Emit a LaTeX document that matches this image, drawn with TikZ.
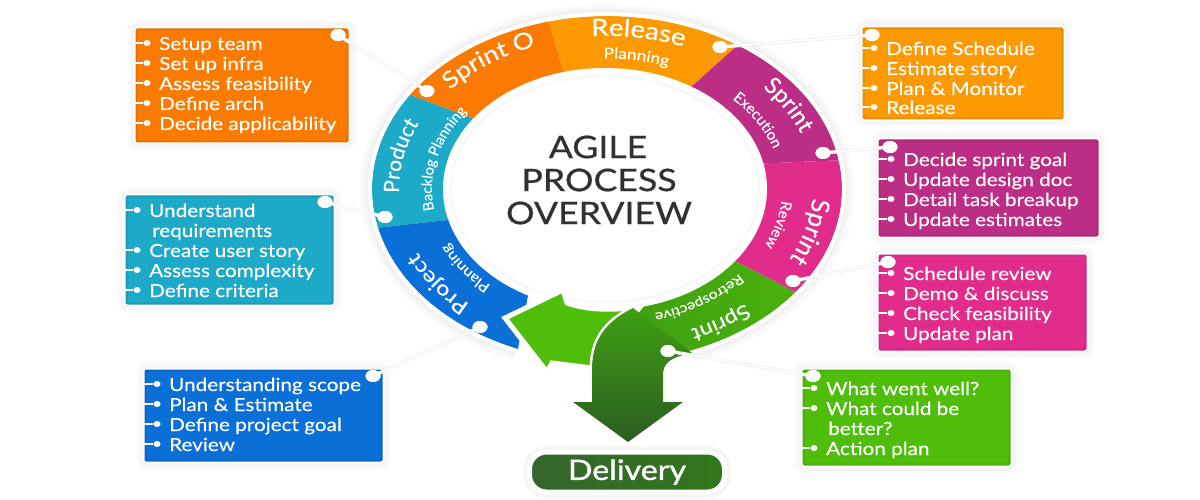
\documentclass[tikz,border=0pt]{standalone}
\usepackage{fontspec}
\setmainfont[FakeStretch=1.15,FakeBold=0.25]{Lato}
\newfontfamily\sidefont[FakeBold=0.25]{Lato}
\newfontfamily\titlefont[FakeStretch=1.15,FakeBold=0.7]{Lato}
\newfontfamily\delfont[FakeStretch=1.15,FakeBold=1.2]{Lato}
\usetikzlibrary{decorations.text,shapes.geometric}
\definecolor{cOrange}{HTML}{FB7A02}
\definecolor{cAmber}{HTML}{FD9A02}
\definecolor{cPurple}{HTML}{BC2E85}
\definecolor{cPink}{HTML}{E22C8C}
\definecolor{cGreen}{HTML}{4FBE0B}
\definecolor{cBlue}{HTML}{0A6FD7}
\definecolor{cTeal}{HTML}{1CAAC8}
\definecolor{cDark}{HTML}{2F3233}
\definecolor{cGD}{HTML}{2A5C22}
\definecolor{cGM}{HTML}{3FA012}
\tikzset{
  x=1pt,y=-1pt,
  panelbox/.style={rectangle,rounded corners=3pt,inner sep=0pt,draw=white,line width=5pt,
    preaction={draw=black!2,line width=17pt},
    preaction={draw=black!4,line width=11pt}},
  itemtext/.style={text=white,inner sep=0pt,font=\fontsize{18}{20}\selectfont},
  bulletdot/.style={ellipse,fill=white,inner sep=0pt,minimum width=7pt,minimum height=6pt},
  ringdot/.style={ellipse,fill=white,inner sep=0pt,minimum width=15pt,minimum height=12pt},
  tick/.style={draw=white,line width=1.4pt},
  leader/.style={draw=white,line width=1.6pt,preaction={draw=black!6,line width=3.5pt}},
  titletext/.style={text=cDark,inner sep=0pt,font=\titlefont\fontsize{31}{36}\selectfont},
}
\newcommand\panel[6]{%
  \pgfmathsetmacro\pw{#4-#2}\pgfmathsetmacro\ph{#5-#3}%
  \node[panelbox,fill=#6!82!black,minimum width=\pw pt,minimum height=\ph pt] (#1) at ({(#2+#4)/2},{(#3+#5)/2}) {};
  \fill[#6!92!black,rounded corners=2pt] ([shift={(2,-2)}]#1.south west) rectangle ([shift={(-2,2)}]#1.north east);
  \fill[#6,rounded corners=2pt] ([shift={(4,-4)}]#1.south west) rectangle ([shift={(-4,4)}]#1.north east);
}
\newcommand\entry[5]{%
  \node[itemtext,anchor=base west] (#1) at (#3,#4+7) {#5};
  \node[bulletdot] (#1b) at (#3-12,#4) {};
  \draw[tick] (#1b) -- (#2.west |- #1b);
}
\newcommand\ringtext[6][\rmfamily]{% font; k, centre angle, half span, size, text
  \path[decorate,decoration={text along path,text color=white,text align=center,
     text={|#1\fontsize{#5}{#5}\selectfont|#6}}]
    ({607+#2*235*cos(#3+#4)},{189-#2*173*sin(#3+#4)})
    arc[start angle={#3+#4},end angle={#3-#4},x radius={#2*235pt},y radius={#2*173pt}];
}
\begin{document}
\begin{tikzpicture}
\useasboundingbox (0,0) rectangle (1200,500);
\fill[white] (0,0) rectangle (1200,500);
% soft halo round the ring
\foreach \w/\c in {20/2,13/4,8/6}{
  \draw[black!\c,line width=\w pt] ({607+237*cos(247.5)},{189-175*sin(247.5)})
    arc[start angle=247.5,end angle=-69,x radius=237pt,y radius=175pt];
}
\begin{scope}
\clip (607,189) ellipse [x radius=235pt,y radius=173pt];
\fill[cTeal] (490,125) -- (380,83) -- (340,232) -- (465,218) -- cycle;
\fill[cOrange] (567,83) -- (545,8) -- (545,0) -- (380,0) -- (380,83) -- (490,125) -- cycle;
\fill[cAmber] (567,83) -- (545,8) -- (545,0) -- (800,0) -- (760,25) -- (680,97) -- cycle;
\fill[cPurple] (680,97) -- (760,25) -- (870,25) -- (870,159) -- (750,164) -- cycle;
\fill[cPink] (750,164) -- (870,159) -- (870,310) -- (830,310) -- (725,256) -- cycle;
\shade[left color=cGM,right color=cGreen!95!black] (725,256) -- (830,310) -- (700,380) -- (690,354) -- (633,308) -- cycle;
\fill[cBlue] (465,218) -- (340,232) -- (400,370) -- (514,370) -- (530,285) -- cycle;
\end{scope}
\fill[white] (605,189) ellipse [x radius=162pt,y radius=121pt];
\draw[black!3,line width=2pt] (605,189) ellipse [x radius=154pt,y radius=113pt];
\draw[white,line width=4pt] ({607+237*cos(247.5)},{189-175*sin(247.5)})
    arc[start angle=247.5,end angle=-69,x radius=237pt,y radius=175pt];
% arrows
\draw[white,line width=5pt,line join=miter,fill=cGreen] (505,318) -- (563,290) -- (567,303)
   .. controls (590,311) and (615,310) .. (640,307) -- (592,368) -- (552,363) -- (547,372) -- cycle;
\draw[white,line width=5pt,line join=miter] (633,308) .. controls (605,322) and (592,340) .. (592,370)
   -- (592,402) -- (573,402) -- (628,442) -- (683,402) -- (663,402) -- (663,375)
   .. controls (663,362) and (672,357) .. (692,353);
\shade[top color=cGM,bottom color=cGD] (633,308) .. controls (605,322) and (592,340) .. (592,370)
   -- (592,402) -- (573,402) -- (628,442) -- (683,402) -- (663,402) -- (663,375)
   .. controls (663,362) and (672,357) .. (692,353) -- cycle;
% ring labels
\ringtext{0.88}{129}{50}{23}{Sprint O}
\ringtext{0.885}{80}{50}{24}{Release}
\ringtext{0.755}{79}{50}{15}{Planning}
\ringtext[\sidefont]{0.885}{27}{50}{23}{Sprint}
\ringtext[\sidefont]{0.745}{27}{50}{15}{Execution}
\ringtext[\sidefont]{0.875}{-13}{50}{25}{Sprint}
\ringtext[\sidefont]{0.745}{-13}{50}{15}{Review}
\ringtext{0.885}{-53}{50}{20}{Sprint}
\ringtext{0.745}{-53}{55}{13.5}{Retrospective}
\ringtext{0.885}{-148}{50}{20.5}{Project}
\ringtext{0.745}{-148}{50}{14}{Planning}
\ringtext[\sidefont]{0.885}{170}{50}{21}{Product}
\ringtext[\sidefont]{0.745}{168.5}{60}{14.5}{Backlog Planning}
% title
\node[titletext] (t1) at (598,147) {AGILE};
\node[titletext] (t2) at (599,180) {PROCESS};
\node[titletext] (t3) at (599,213) {OVERVIEW};
% delivery
\node[rectangle,rounded corners=17pt,draw=white,line width=5pt,minimum width=195pt,minimum height=40pt,
   left color=cGD!95!white,right color=cGD!60!cGM,
   preaction={draw=black!4,line width=12pt},
   text=white,font=\delfont\fontsize{28}{30}\selectfont,inner sep=0pt] (del) at (627,472) {Delivery};
% panels
\panel{pA}{136}{29}{348}{142}{cOrange}
\panel{pB}{126}{196}{333}{304}{cTeal}
\panel{pC}{145}{370}{382}{461}{cBlue}
\panel{pD}{863}{28}{1063}{119}{cAmber}
\panel{pE}{879}{140}{1098}{236}{cPurple}
\panel{pF}{879}{255}{1086}{350}{cPink}
\panel{pG}{803}{370}{1010}{465}{cGreen}
% ring dots and leader lines
\node[ringdot] (r1) at (427,91) {};
\node[ringdot] (r2) at (720,47) {};
\node[ringdot] (r3) at (823,153) {};
\node[ringdot] (r4) at (793,281) {};
\node[ringdot] (r5) at (668,351) {};
\node[ringdot] (r6) at (480,327) {};
\node[ringdot] (r7) at (385,217) {};
\node[ringdot] (d1) at (338,35) {};
\node[ringdot] (d2) at (325,202) {};
\node[ringdot] (d3) at (373,376) {};
\node[ringdot] (d4) at (872,35) {};
\node[ringdot] (d5) at (890,147) {};
\node[ringdot] (d6) at (888,262) {};
\node[ringdot] (d7) at (813,376) {};
\draw[leader] (d1.center) -- (r1.center);
\draw[leader] (d2.center) -- (r7.center);
\draw[leader] (d3.center) -- (r6.center);
\draw[leader] (d4.center) -- (r2.center);
\draw[leader] (d5.center) -- (r3.center);
\draw[leader] (d6.center) -- (r4.center);
\draw[leader] (d7.center) -- (r5.center);
\foreach \n in {r1,r2,r3,r4,r5,r6,r7,d1,d2,d3,d4,d5,d6,d7}{\fill[white] (\n.center) ellipse [x radius=7.5pt,y radius=6pt];}
% entries
\entry{a1}{pA}{159}{43}{Setup team}
\entry{a2}{pA}{159}{63}{Set up infra}
\entry{a3}{pA}{159}{83}{Assess feasibility}
\entry{a4}{pA}{159}{103}{Define arch}
\entry{a5}{pA}{159}{123}{Decide applicability}
\entry{b1}{pB}{149}{210}{Understand}
\node[itemtext,anchor=base west] (b1x) at (152,237) {requirements};
\entry{b2}{pB}{149}{250}{Create user story}
\entry{b3}{pB}{149}{270}{Assess complexity}
\entry{b4}{pB}{149}{290}{Define criteria}
\entry{c1}{pC}{169}{384}{Understanding scope}
\entry{c2}{pC}{169}{404}{Plan \& Estimate}
\entry{c3}{pC}{169}{424}{Define project goal}
\entry{c4}{pC}{169}{444}{Review}
\entry{e1}{pD}{886}{48}{Define Schedule}
\entry{e2}{pD}{886}{68}{Estimate story}
\entry{e3}{pD}{886}{88}{Plan \& Monitor}
\entry{e4}{pD}{886}{107}{Release}
\entry{f1}{pE}{903}{159}{Decide sprint goal}
\entry{f2}{pE}{903}{179}{Update design doc}
\entry{f3}{pE}{903}{199}{Detail task breakup}
\entry{f4}{pE}{903}{219}{Update estimates}
\entry{g1}{pF}{903}{273}{Schedule review}
\entry{g2}{pF}{903}{293}{Demo \& discuss}
\entry{g3}{pF}{903}{313}{Check feasibility}
\entry{g4}{pF}{903}{333}{Update plan}
\entry{h1}{pG}{826}{388}{What went well?}
\entry{h2}{pG}{826}{408}{What could be}
\node[itemtext,anchor=base west] (h2x) at (828,435) {better?};
\entry{h3}{pG}{826}{448}{Action plan}
\end{tikzpicture}
\end{document}
